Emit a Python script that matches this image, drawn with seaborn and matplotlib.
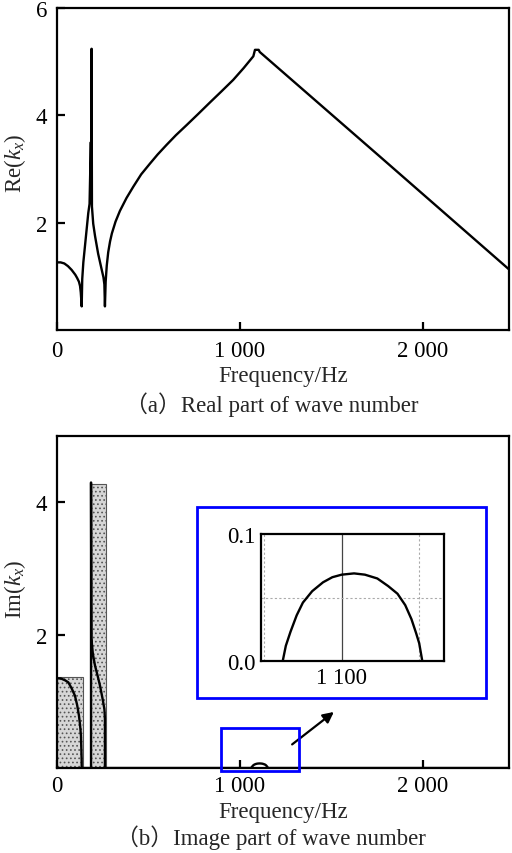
import numpy as np
import pandas as pd
import matplotlib
matplotlib.use("Agg")
import matplotlib.pyplot as plt
from matplotlib.patches import Rectangle
import seaborn as sns

# real part of wave number
re_freq = [0, 20, 40, 60, 80, 100, 110, 120, 126, 130, 133, 135,
           138, 144, 171, 178, 185, 187, 189, 191,
           198, 208, 225, 244, 254, 259, 262,
           266, 272, 280, 290, 300, 320, 344, 380, 417, 460, 508, 550, 599,
           650, 709, 770, 836, 900, 963, 1020, 1073, 1082, 1102, 1108, 1765, 2470]
re_vals = [1.26, 1.26, 1.24, 1.19, 1.12, 1.03, 0.97, 0.9, 0.82, 0.7, 0.55, 0.44,
           0.95, 1.26, 2.18, 2.35, 3.5, 2.4, 5.24, 2.3,
           1.98, 1.75, 1.42, 1.13, 0.98, 0.85, 0.44,
           0.9, 1.2, 1.45, 1.65, 1.8, 2.02, 2.22, 2.46, 2.67, 2.9, 3.1, 3.27, 3.45,
           3.63, 3.82, 4.02, 4.24, 4.45, 4.66, 4.88, 5.1, 5.22, 5.22, 5.18, 3.23, 1.13]

# imaginary part: low-frequency branches
im_low_freq = [0, 20, 45, 62, 80, 98, 110, 120, 126, 131, 133, 135, 135,
               186, 186, 188, 196, 208, 222, 235, 248, 259, 262, 262]
im_low_vals = [1.35, 1.35, 1.32, 1.29, 1.2, 1.09, 0.95, 0.79, 0.65, 0.49, 0.3, 0.1, 0,
               0, 4.3, 1.95, 1.72, 1.54, 1.39, 1.24, 1.06, 0.89, 0.75, 0]
# small bump around 1 100 Hz (shown in the inset)
bump_freq = [1062, 1064, 1067, 1071, 1075, 1081, 1088, 1094, 1100, 1108, 1115,
             1123, 1130, 1136, 1141, 1145, 1148, 1150, 1151, 1152]
bump_vals = [0, 0.012, 0.023, 0.036, 0.046, 0.055, 0.062, 0.066, 0.068, 0.069, 0.068,
             0.065, 0.059, 0.053, 0.044, 0.033, 0.022, 0.014, 0.007, 0]
im_end_freq = [2470]
im_end_vals = [0]

# shaded bands
band_left = [0, 184]
band_right = [142, 268]
band_height = [1.37, 4.27]

x_ticks = [0, 1000, 2000]
x_ticklabels = ["0", "1 000", "2 000"]

sns.set_style("ticks")
plt.rcParams["font.family"] = ["Liberation Serif", "Noto Sans CJK SC"]
plt.rcParams["mathtext.fontset"] = "custom"
plt.rcParams["mathtext.rm"] = "Liberation Serif"
plt.rcParams["mathtext.it"] = "Liberation Serif:italic"
plt.rcParams["hatch.linewidth"] = 0.7

fs = 16.5
fig = plt.figure(figsize=(5.12, 8.54), dpi=100)
ax1 = fig.add_axes([0.1113, 0.6124, 0.8828, 0.3771])
ax2 = fig.add_axes([0.1113, 0.0995, 0.8828, 0.3888])


def style_axis(ax):
    for s in ax.spines.values():
        s.set_linewidth(1.6)
        s.set_color("black")
    ax.tick_params(direction="in", length=6, width=1.6, labelsize=fs,
                   colors="black", pad=7)


# (a) real part
re_df = pd.DataFrame({"freq": re_freq, "val": re_vals})
sns.lineplot(data=re_df, x="freq", y="val", ax=ax1, color="black", lw=1.7,
             sort=False, estimator=None)
ax1.set_xlim(0, 2470)
ax1.set_ylim(0, 6)
ax1.set_xticks(x_ticks)
ax1.set_xticklabels(x_ticklabels)
ax1.set_yticks([2, 4, 6])
ax1.set_yticklabels(["2", "4", "6"])
style_axis(ax1)
ax1.set_xlabel("Frequency/Hz", fontsize=fs)
ax1.set_ylabel("Re($k_x$)", fontsize=fs)
ax1.xaxis.set_label_coords(0.5, -0.108)
ax1.yaxis.set_label_coords(-0.065, 0.52)

# (b) imaginary part
for l, r, h in zip(band_left, band_right, band_height):
    ax2.bar(l, h, width=r - l, align="edge", facecolor="#d6d6d6",
            edgecolor="#555555", hatch="....", lw=0.8, zorder=1)

im_df = pd.DataFrame({"freq": im_low_freq + bump_freq + im_end_freq,
                      "val": im_low_vals + bump_vals + im_end_vals})
sns.lineplot(data=im_df, x="freq", y="val", ax=ax2, color="black", lw=1.7,
             sort=False, estimator=None, zorder=3)
ax2.set_xlim(0, 2470)
ax2.set_ylim(0, 5)
ax2.set_xticks(x_ticks)
ax2.set_xticklabels(x_ticklabels)
ax2.set_yticks([2, 4])
ax2.set_yticklabels(["2", "4"])
style_axis(ax2)
ax2.tick_params(axis="x", pad=5)
ax2.set_xlabel("Frequency/Hz", fontsize=fs)
ax2.set_ylabel("Im($k_x$)", fontsize=fs)
ax2.xaxis.set_label_coords(0.5, -0.1)
ax2.yaxis.set_label_coords(-0.065, 0.54)

# zoom box, arrow and inset frame
ax2.add_patch(Rectangle((896, -0.045), 426, 0.645, fill=False, edgecolor="blue",
                        lw=2, clip_on=False, zorder=4))
ax2.annotate("", xy=(1525, 0.87), xytext=(1273, 0.33),
             arrowprops=dict(arrowstyle="-|>", color="black", lw=1.6,
                             mutation_scale=16))
ax2.add_patch(Rectangle((0.31, 0.211), 0.639, 0.575, transform=ax2.transAxes,
                        fill=False, edgecolor="blue", lw=2, clip_on=False))

axin = fig.add_axes([0.5098, 0.2248, 0.3574, 0.1487])
bump_df = pd.DataFrame({"freq": bump_freq, "val": bump_vals})
axin.axvline(1100, color="#444444", lw=0.9)
for gx in [1050, 1150]:
    axin.axvline(gx, color="#aaaaaa", lw=0.8, ls=(0, (2, 2)))
axin.axhline(0.05, color="#aaaaaa", lw=0.8, ls=(0, (2, 2)))
sns.lineplot(data=bump_df, x="freq", y="val", ax=axin, color="black", lw=1.7,
             sort=False, estimator=None)
axin.set_xlim(1048, 1166)
axin.set_ylim(0, 0.1)
axin.set_xticks([1100])
axin.set_xticklabels(["1 100"])
axin.set_yticks([0, 0.1])
axin.set_yticklabels(["0.0", "0.1"])
for s in axin.spines.values():
    s.set_linewidth(1.6)
    s.set_color("black")
axin.tick_params(length=0, labelsize=fs, pad=4, colors="black")
axin.set_xlabel("")
axin.set_ylabel("")

fig.text(0.53, 0.5258, "（a）Real part of wave number", ha="center", va="center",
         fontsize=fs)
fig.text(0.53, 0.0187, "（b）Image part of wave number", ha="center", va="center",
         fontsize=fs)

fig.savefig("out.png", dpi=100)
